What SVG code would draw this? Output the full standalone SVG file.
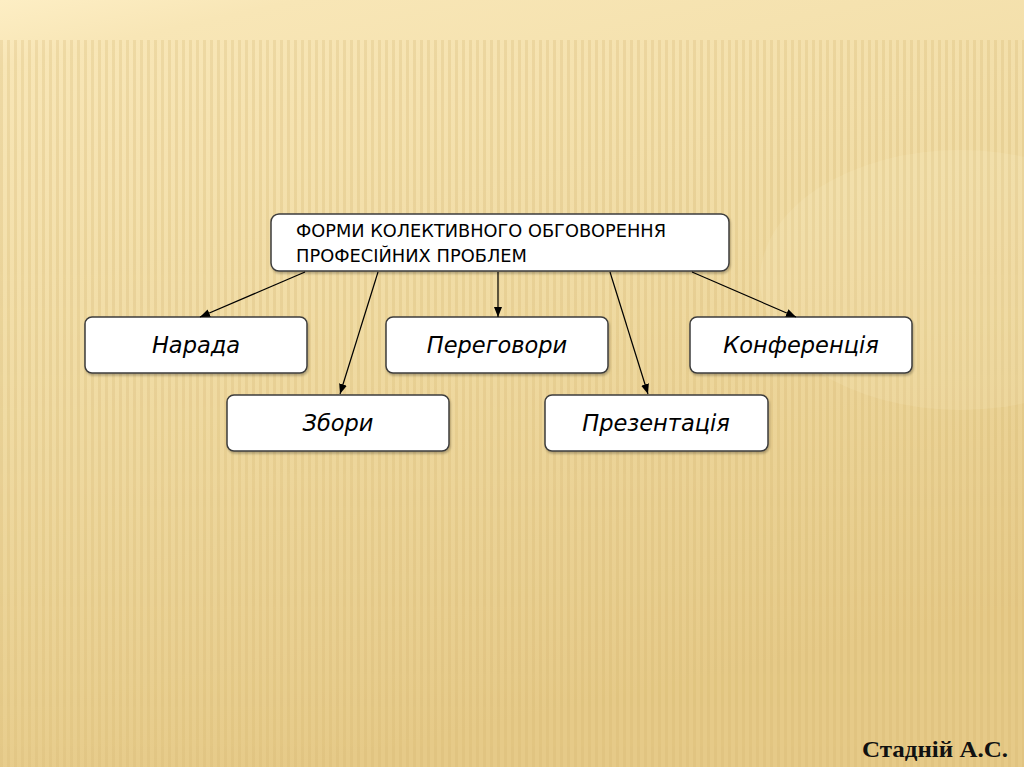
<svg xmlns="http://www.w3.org/2000/svg" width="1024" height="767" viewBox="0 0 1024 767">
<defs>
<linearGradient id="bg" x1="0" y1="0" x2="0.3" y2="1">
<stop offset="0" stop-color="#fdeec4"/>
<stop offset="0.08" stop-color="#f8e6b6"/>
<stop offset="0.5" stop-color="#f0dba3"/>
<stop offset="1" stop-color="#e6ca88"/>
</linearGradient>
<pattern id="stripes" width="7" height="767" patternUnits="userSpaceOnUse">
<rect x="0" y="0" width="3" height="767" fill="#c9a65a" opacity="0.2"/>
</pattern>
<linearGradient id="fade" x1="0" y1="0" x2="0" y2="1">
<stop offset="0" stop-color="#fff" stop-opacity="1"/>
<stop offset="0.3" stop-color="#fff" stop-opacity="1"/>
<stop offset="1" stop-color="#fff" stop-opacity="0.7"/>
</linearGradient>
<mask id="m"><rect x="0" y="40" width="1024" height="727" fill="url(#fade)"/></mask>
<marker id="ah" viewBox="0 0 10 10" refX="10" refY="5" markerWidth="10" markerHeight="10" markerUnits="userSpaceOnUse" orient="auto">
<path d="M0,1 L10,5 L0,9 Z" fill="#000"/>
</marker>
<filter id="sh" x="-5%" y="-10%" width="110%" height="130%">
<feDropShadow dx="1" dy="2" stdDeviation="1.2" flood-color="#000" flood-opacity="0.25"/>
</filter>
</defs>
<style>
.box{fill:#fff;stroke:#3c3c3c;stroke-width:1.5;filter:url(#sh)}
.lbl{font-family:"DejaVu Sans","Liberation Sans",sans-serif;font-style:italic;font-size:22.5px;fill:#000;text-anchor:middle}
.title{font-family:"DejaVu Sans","Liberation Sans",sans-serif;font-size:17px;fill:#000}
.conn{stroke:#000;stroke-width:1.2;fill:none;marker-end:url(#ah)}
</style>
<rect width="1024" height="767" fill="url(#bg)"/>
<rect x="0" y="40" width="1024" height="727" fill="url(#stripes)" mask="url(#m)"/>
<ellipse cx="960" cy="280" rx="200" ry="130" fill="#fff3d2" opacity="0.12"/>

<g id="top">
<rect class="box" x="271" y="214" width="458" height="57" rx="8"/>
<text class="title" x="296" y="237" textLength="370" lengthAdjust="spacingAndGlyphs">ФОРМИ КОЛЕКТИВНОГО ОБГОВОРЕННЯ</text>
<text class="title" x="296" y="262" textLength="231" lengthAdjust="spacingAndGlyphs">ПРОФЕСІЙНИХ ПРОБЛЕМ</text>
</g>

<g id="narada">
<rect class="box" x="85" y="317" width="222" height="56" rx="7"/>
<text class="lbl" x="196" y="353">Нарада</text>
</g>
<g id="zbory">
<rect class="box" x="227" y="395" width="222" height="56" rx="7"/>
<text class="lbl" x="338" y="431">Збори</text>
</g>
<g id="perehovory">
<rect class="box" x="386" y="317" width="222" height="56" rx="7"/>
<text class="lbl" x="497" y="353">Переговори</text>
</g>
<g id="prezentatsiia">
<rect class="box" x="545" y="395" width="223" height="56" rx="7"/>
<text class="lbl" x="656" y="431">Презентація</text>
</g>
<g id="konferentsiia">
<rect class="box" x="690" y="317" width="222" height="56" rx="7"/>
<text class="lbl" x="801" y="353">Конференція</text>
</g>

<g id="connectors">
<line class="conn" x1="305" y1="272" x2="200" y2="317"/>
<line class="conn" x1="378" y1="272" x2="340" y2="394"/>
<line class="conn" x1="498" y1="272" x2="498" y2="317"/>
<line class="conn" x1="610" y1="272" x2="648" y2="394"/>
<line class="conn" x1="692" y1="272" x2="796" y2="317"/>
</g>

<text x="1008" y="757" text-anchor="end" font-family="'Liberation Serif','DejaVu Serif',serif" font-weight="bold" font-size="23" textLength="146" lengthAdjust="spacingAndGlyphs" fill="#111">Стадній А.С.</text>
</svg>
